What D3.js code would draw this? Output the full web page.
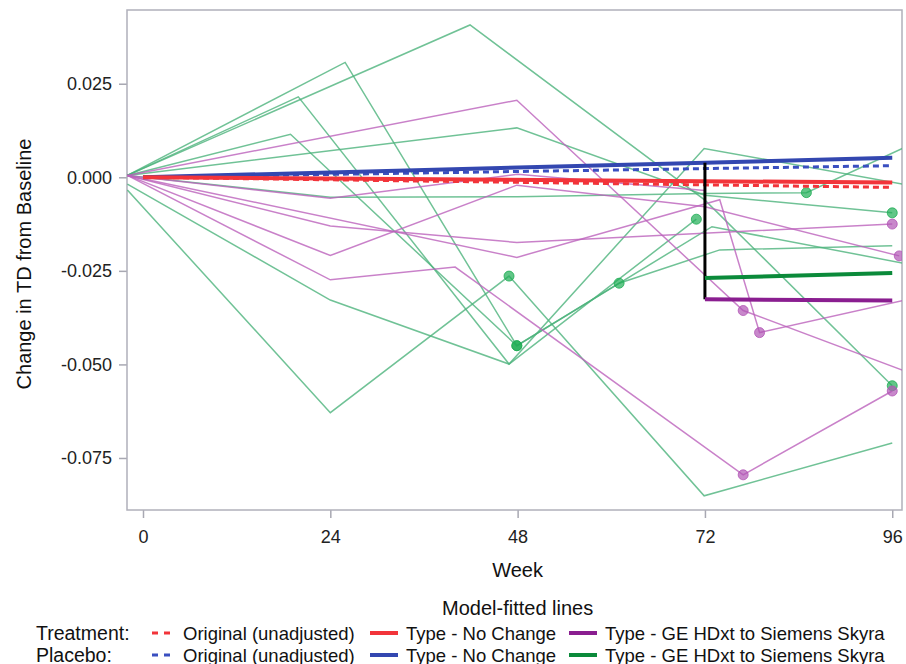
<!DOCTYPE html>
<html>
<head>
<meta charset="utf-8">
<script src="https://cdn.jsdelivr.net/npm/d3@7"></script>
<style>
  body { margin: 0; background: #fff; }
  svg { font-family: "Liberation Sans", Arial, sans-serif; }
</style>
</head>
<body>
<svg id="chart" width="906" height="664"></svg>
<script>
// Individual subject trajectories: [week, change, hasDot]
const placeboSubjects = [
  [[-2, 0.0005], [41.9, 0.0407], [72, -0.0061], [96, -0.0557, 1]],
  [[-2, 0.0005], [25.9, 0.0307], [47.9, -0.0450, 1], [61, -0.0283, 1], [73.9, -0.0194], [96, -0.0183]],
  [[-2, 0.0005], [18.9, 0.0115], [47.9, -0.0450, 1], [72.9, -0.0132], [97.3, -0.0229]],
  [[-2, -0.0034], [24, -0.0629], [46.9, -0.0264, 1], [71.9, -0.0851], [96, -0.0710]],
  [[-2, -0.0018], [24, -0.0328], [46.9, -0.0499], [70.9, -0.0112, 1]],
  [[-2, 0.0005], [19.9, 0.0215], [46.9, -0.0499], [71.9, 0.0077], [97.3, -0.0018]],
  [[-2, 0.0005], [47.9, 0.0132], [72, -0.0048], [96, -0.0095, 1]],
  [[-2, 0.0005], [24, -0.0053], [48, -0.0052], [72, -0.0043], [85, -0.0041, 1], [97.3, 0.0077]]
];

const treatmentSubjects = [
  [[-2, 0.0005], [24, -0.0056], [48, 0.0008], [72, -0.0035]],
  [[-2, 0.0005], [24, -0.0130], [47.9, -0.0174], [96, -0.0125, 1]],
  [[-2, 0.0005], [24, -0.0209], [47.9, -0.0021], [72, -0.0079], [96.9, -0.0210, 1]],
  [[-2, 0.0005], [24, -0.0274], [40, -0.0240], [76.9, -0.0795, 1], [96, -0.0571, 1]],
  [[-2, 0.0005], [47.9, 0.0206], [76.9, -0.0356, 1], [97.9, -0.0520]],
  [[-2, 0.0005], [47.9, -0.0214], [73.9, -0.0060], [79, -0.0415, 1], [97.6, -0.0328]]
];

// Model-fitted lines
const fitWeeks = [0, 96];
const treatOriginal = [0, -0.0027];
const treatNoChange = [0, -0.0014];
const placeboOriginal = [0, 0.0031];
const placeboNoChange = [0, 0.0052];
const switchWeeks = [72, 96];
const treatSwitch = [-0.0326, -0.0329];
const placeboSwitch = [-0.0269, -0.0256];

const xTicks = [0, 24, 48, 72, 96];
const yTicks = [0.025, 0, -0.025, -0.05, -0.075];

const legendRows = ['Treatment:', 'Placebo:'];
const legendLabels = ['Original (unadjusted)', 'Type - No Change', 'Type - GE HDxt to Siemens Skyra'];

const svg = d3.select('#chart');
const margin = { left: 127, top: 10 };
const width = 775, height = 500;

const x = d3.scaleLinear().domain([-2.05, 97.25]).range([0, width]);
const y = d3.scaleLinear().domain([-0.0889, 0.0447]).range([height, 0]);

const fmt = d3.formatLocale({ decimal: '.', thousands: ',', grouping: [3], currency: ['', ''], minus: '-' }).format('.3f');

const g = svg.append('g').attr('transform', `translate(${margin.left},${margin.top})`);

g.append('defs').append('clipPath').attr('id', 'plotClip')
  .append('rect').attr('width', width).attr('height', height);

// axes
const yAxis = g.append('g')
  .call(d3.axisLeft(y).tickValues(yTicks).tickFormat(fmt).tickSize(8).tickPadding(7));
const xAxis = g.append('g').attr('transform', `translate(0,${height})`)
  .call(d3.axisBottom(x).tickValues(xTicks).tickSize(8).tickPadding(12));

[xAxis, yAxis].forEach(a => {
  a.select('.domain').remove();
  a.selectAll('line').attr('stroke', '#a8a8b2').attr('stroke-width', 1.5);
  a.selectAll('text').attr('font-size', 18).attr('fill', '#222');
});

g.append('rect')
  .attr('width', width).attr('height', height)
  .attr('fill', 'none').attr('stroke', '#b0b0ba').attr('stroke-width', 1.5);

const plot = g.append('g').attr('clip-path', 'url(#plotClip)');
const line = d3.line().x(d => x(d[0])).y(d => y(d[1]));

function drawSubjects(data, lineColor, dotColor) {
  plot.append('g').selectAll('path').data(data).enter().append('path')
    .attr('d', line)
    .attr('fill', 'none')
    .attr('stroke', lineColor)
    .attr('stroke-opacity', 0.8)
    .attr('stroke-width', 1.5);
  const dots = data.flat().filter(d => d[2]);
  plot.append('g').selectAll('circle').data(dots).enter().append('circle')
    .attr('cx', d => x(d[0]))
    .attr('cy', d => y(d[1]))
    .attr('r', 5)
    .attr('fill', dotColor)
    .attr('fill-opacity', 0.7)
    .attr('stroke', dotColor)
    .attr('stroke-opacity', 0.8);
}

drawSubjects(placeboSubjects, '#4cb37c', '#1fae55');
drawSubjects(treatmentSubjects, '#bb62bb', '#b155b5');

function fitted(weeks, vals, color, dashed, w) {
  plot.append('path')
    .attr('d', line(weeks.map((wk, i) => [wk, vals[i]])))
    .attr('fill', 'none')
    .attr('stroke', color)
    .attr('stroke-width', w)
    .attr('stroke-dasharray', dashed ? '6,4' : null);
}

fitted(fitWeeks, placeboOriginal, '#3a4fc0', true, 3);
fitted(fitWeeks, treatOriginal, '#f2343a', true, 3);
fitted(fitWeeks, placeboNoChange, '#3347b0', false, 4);
fitted(fitWeeks, treatNoChange, '#f2343a', false, 4);

// shift at the scanner change
const blueAt72 = d3.scaleLinear().domain(fitWeeks).range(placeboNoChange)(switchWeeks[0]);
plot.append('line')
  .attr('x1', x(switchWeeks[0])).attr('x2', x(switchWeeks[0]))
  .attr('y1', y(blueAt72)).attr('y2', y(treatSwitch[0]))
  .attr('stroke', '#000').attr('stroke-width', 3);

fitted(switchWeeks, placeboSwitch, '#0b8a3a', false, 4);
fitted(switchWeeks, treatSwitch, '#8a1e90', false, 4);

// axis titles
svg.append('text')
  .attr('x', margin.left + x(48)).attr('y', 577)
  .attr('text-anchor', 'middle').attr('font-size', 20).attr('fill', '#111')
  .text('Week');
svg.append('text')
  .attr('transform', 'translate(31,264) rotate(-90)')
  .attr('text-anchor', 'middle').attr('font-size', 20).attr('fill', '#111')
  .text('Change in TD from Baseline');

// legend
const leg = svg.append('g').attr('font-size', 18.5).attr('fill', '#111');
leg.append('text').attr('x', margin.left + x(48)).attr('y', 615)
  .attr('text-anchor', 'middle').attr('font-size', 20).text('Model-fitted lines');

const rowY = [633, 655];
const swatchX = [152, 370, 569];
const labelX = [183, 406, 605];
const rowColors = [
  ['#f2343a', '#f2343a', '#8a1e90'],
  ['#3a4fc0', '#3347b0', '#0b8a3a']
];

legendRows.forEach((name, r) => {
  leg.append('text').attr('x', 36).attr('y', rowY[r] + 6.5).attr('font-size', 19.5).text(name);
  legendLabels.forEach((lab, i) => {
    const sw = leg.append('line')
      .attr('x1', swatchX[i]).attr('x2', i === 0 ? swatchX[i] + 20 : swatchX[i] + 28)
      .attr('y1', rowY[r]).attr('y2', rowY[r])
      .attr('stroke', rowColors[r][i])
      .attr('stroke-width', i === 0 ? 3 : 4);
    if (i === 0) sw.attr('stroke-dasharray', '6,6');
    leg.append('text').attr('x', labelX[i]).attr('y', rowY[r] + 6.5).text(lab);
  });
});
</script>
</body>
</html>
